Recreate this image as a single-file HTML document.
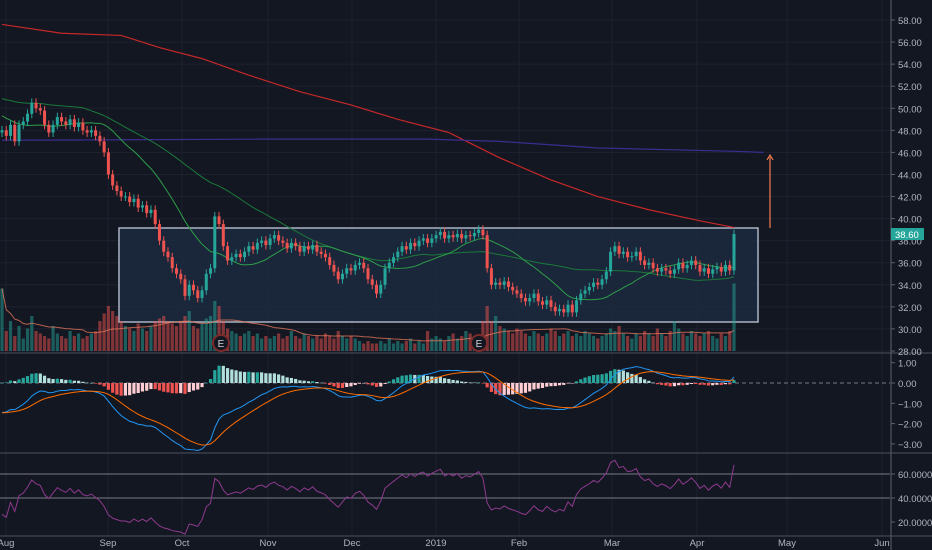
<!DOCTYPE html>
<html><head><meta charset="utf-8"><style>
html,body{margin:0;padding:0;background:#131722;}
svg{display:block;font-family:"Liberation Sans",sans-serif;}
</style></head><body>
<svg id="chart" width="932" height="550" viewBox="0 0 932 550" xmlns="http://www.w3.org/2000/svg">
<rect x="0" y="0" width="932" height="550" fill="#131722"/>
<g id="grid"></g>
<rect x="119" y="228" width="639" height="94" fill="#1d2a40" fill-opacity="0.8" stroke="#aab4c4" stroke-width="1.5"/>
<g id="vol"></g>
<g id="lines"></g>
<g id="candles"></g>
<g id="macd"></g>
<g id="rsi"></g>
<g id="axes"></g>
<line x1="770" y1="228" x2="770" y2="157" stroke="#f57c4d" stroke-width="1.2"/>
<path d="M767 160 L770 155 L773 160" fill="none" stroke="#f57c4d" stroke-width="1.2"/>
<g><circle cx="221" cy="343" r="8" fill="#131722" stroke="#7a2a2a" stroke-width="2"/><text x="221" y="347" fill="#d0d0d0" font-size="10" text-anchor="middle">E</text></g>
<g><circle cx="479" cy="343" r="8" fill="#131722" stroke="#7a2a2a" stroke-width="2"/><text x="479" y="347" fill="#d0d0d0" font-size="10" text-anchor="middle">E</text></g>
</svg>
<script>
const priorCloses=[55,54.8,54.5,54,54.2,53.8,53.5,53,53.2,52.6,52,52.3,51.8,51.2,51,50.5,50.8,50.2,49.6,49.8,49.2,48.8,49,48.4,48,47.6,47.8,47.2,47.5,47.8];
const closes=[48,47.5,48.5,47,48.5,48.8,49.5,50.5,50,49.8,48.5,47.8,48.5,49.2,48.8,48.5,49,48.3,48.7,48,47.8,48,47.5,47,
46,44,43,42.5,42,42,41.5,41.8,41,41.2,40.5,40.8,39.5,38,37,36.5,35.5,35,
34.5,33,34,33.5,32.8,33.5,35,35.5,40.2,39.5,37.5,36.2,36.5,36.8,36.5,37,37.5,37.2,37.8,38,37.6,38.2,
38.5,38,37.8,37.3,37.8,37.5,37,37.5,37.2,37.6,37,36.8,36.5,35.8,35.2,34.5,35,35.5,35.3,35.8,
36,35.5,34.5,34,33.2,34,35.5,36,36.5,37,37.5,37.2,37.8,37.5,38,38.2,37.8,38.2,38.5,
38.8,38.2,38.5,38.3,38.6,38.2,38.5,38.4,38.7,39,38.5,35.5,34,34.2,34,34.3,33.8,33.5,33.2,32.8,32.5,
32.8,33.2,32.5,32.2,32.6,32,31.6,31.8,31.5,32.2,31.5,32.6,33.2,33.5,33.8,34.2,34,34.5,35.2,
37,37.5,36.8,37,36.5,36.6,37,36.2,35.8,36,35.5,35.2,35.5,35.3,35,35.4,36,35.5,35.8,36.2,35.8,
35.2,35.5,35,35.4,35.6,35.2,35.8,35.3,38.6];
const volumes=[25,8,12,6,10,5,9,14,8,7,6,5,10,7,6,5,8,6,7,5,6,7,8,12,
15,18,16,14,12,10,9,8,11,9,8,10,12,13,14,12,11,10,
12,14,16,10,9,11,13,14,20,18,12,9,8,7,6,7,8,6,7,5,6,5,
6,7,5,6,8,6,5,7,6,5,6,5,7,6,5,8,6,5,6,5,
4,3,4,3,3,4,3,5,3,4,3,4,5,3,4,3,8,5,6,
5,4,6,7,5,6,8,7,6,5,12,18,12,14,10,9,8,7,9,8,7,
6,8,7,6,7,9,8,6,7,8,6,7,6,8,7,6,5,6,7,
9,8,10,7,6,5,7,6,8,7,6,9,7,6,8,12,9,7,6,8,7,
6,7,8,6,5,7,6,8,27];
const ma200Idx=[0,14,28,37,47,58,70,82,93,105,117,129,140,152,164,172];
const ma200Val=[57.6,56.8,56.6,55.5,54.5,53,51.5,50.3,49,47.8,45.5,43.5,42,40.8,39.8,39.2];
const blueIdx=[0,60,100,117,140,172,179];
const blueVal=[47.1,47.2,47.2,47.0,46.4,46.1,46.0];
const priceTicks=[58,56,54,52,50,48,46,44,42,40,38,36,34,32,30,28];
const macdTicks=[1,0,-1,-2,-3];
const rsiTicks=[60,40,20];
const monthLabels=["Aug","Sep","Oct","Nov","Dec","2019","Feb","Mar","Apr","May","Jun"];
const monthX=[6,108,182,268,352,436,519,612,697,787,882];

const NS="http://www.w3.org/2000/svg";
function mk(tag,attrs,parent){const e=document.createElementNS(NS,tag);for(const k in attrs)e.setAttribute(k,attrs[k]);parent.appendChild(e);return e;}
const N=closes.length, X0=2, DX=732/(N-1);
const xs=i=>X0+i*DX;
const yP=p=>20+(58-p)*11.033;
const yM=v=>383-v*20.3;
const yR=v=>474+(60-v)*1.2;
const yV=v=>351-v*2.5;

const grid=document.getElementById('grid');
priceTicks.forEach(t=>{const l=mk('line',{x1:0,x2:890,y1:yP(t),y2:yP(t),stroke:'#1e2230','stroke-width':1},grid);
});
monthX.forEach(x=>{const l=mk('line',{x1:x,x2:x,y1:0,y2:536,stroke:'#1e2230','stroke-width':1},grid);
});

const all=priorCloses.concat(closes), P=priorCloses.length;
function sma(arr,n,i){let s=0,c=0;for(let k=Math.max(0,i-n+1);k<=i;k++){s+=arr[k];c++;}return s/c;}

const vg=document.getElementById('vol');
closes.forEach((c,i)=>{const o=i?closes[i-1]:all[P-1];const up=c>=o;
const r=mk('rect',{x:xs(i)-1.6,y:yV(volumes[i]),width:3.2,height:351-yV(volumes[i]),fill:up?'#26a69a':'#ef5350','fill-opacity':0.5},vg);
});
let vp=closes.map((c,i)=>xs(i)+','+yV(sma(volumes,20,i))).join(' ');
const vml=mk('polyline',{points:vp,fill:'none',stroke:'#e0745a','stroke-width':1,'stroke-opacity':0.8},vg);


const lg=document.getElementById('lines');
const p200=ma200Idx.map((k,j)=>xs(k)+','+yP(ma200Val[j])).join(' ');
const l200=mk('polyline',{points:p200,fill:'none',stroke:'#c62828','stroke-width':1.2},lg);

const pb=blueIdx.map((k,j)=>xs(k)+','+yP(blueVal[j])).join(' ');
const lb=mk('polyline',{points:pb,fill:'none',stroke:'#3b2d8f','stroke-width':1.2},lg);

const p50=closes.map((c,i)=>xs(i)+','+yP(sma(all,50,P+i))).join(' ');
const l50=mk('polyline',{points:p50,fill:'none',stroke:'#1b7a3a','stroke-width':1},lg);

const p20=closes.map((c,i)=>xs(i)+','+yP(sma(all,20,P+i))).join(' ');
const l20=mk('polyline',{points:p20,fill:'none',stroke:'#2e9e4a','stroke-width':1},lg);


const cg=document.getElementById('candles');
closes.forEach((c,i)=>{const o=i?closes[i-1]:all[P-1];const up=c>=o;const col=up?'#26a69a':'#ef5350';
const hi=Math.max(o,c)+0.4, lo=Math.min(o,c)-0.4;
const w=mk('line',{x1:xs(i),x2:xs(i),y1:yP(hi),y2:yP(lo),stroke:col,'stroke-width':1},cg);

const b=mk('rect',{x:xs(i)-1.5,y:yP(Math.max(o,c)),width:3,height:Math.max(1,Math.abs(yP(o)-yP(c))),fill:col},cg);
});

function ema(arr,n){const k=2/(n+1);const r=[];arr.forEach((v,i)=>r.push(i?v*k+r[i-1]*(1-k):v));return r;}
const e12=ema(all,12),e26=ema(all,26);const macdAll=all.map((v,i)=>e12[i]-e26[i]);const sigAll=ema(macdAll,9);
const mg=document.getElementById('macd');
const z=mk('line',{x1:0,x2:890,y1:383,y2:383,stroke:'#787b86','stroke-dasharray':'4 3','stroke-width':1},mg);

closes.forEach((c,i)=>{const h=macdAll[P+i]-sigAll[P+i], hp=macdAll[P+i-1]-sigAll[P+i-1];
const col=h>=0?(h>=hp?'#26a69a':'#b2dfdb'):(h<hp?'#ef5350':'#ffcdd2');
const r=mk('rect',{x:xs(i)-1.6,y:Math.min(yM(h),383),width:3.2,height:Math.max(0.5,Math.abs(yM(h)-383)),fill:col},mg);
});
const mp=closes.map((c,i)=>xs(i)+','+yM(macdAll[P+i])).join(' ');
const ml=mk('polyline',{points:mp,fill:'none',stroke:'#2196f3','stroke-width':1},mg);

const sp=closes.map((c,i)=>xs(i)+','+yM(sigAll[P+i])).join(' ');
const sl=mk('polyline',{points:sp,fill:'none',stroke:'#ff6d00','stroke-width':1},mg);


const rg=document.getElementById('rsi');
[60,40].forEach(t=>{const l=mk('line',{x1:0,x2:890,y1:yR(t),y2:yR(t),stroke:'#787b86','stroke-width':1},rg);
});
let ag=0,al=0;const rsi=[];
for(let i=1;i<all.length;i++){const d=all[i]-all[i-1];const g=Math.max(d,0),l=Math.max(-d,0);
if(i<=14){ag+=g/14;al+=l/14;}else{ag=(ag*13+g)/14;al=(al*13+l)/14;}rsi[i]=al===0?100:100-100/(1+ag/al);}
const rp=closes.map((c,i)=>xs(i)+','+yR(rsi[P+i])).join(' ');
const rl=mk('polyline',{points:rp,fill:'none',stroke:'#8e3a8e','stroke-width':1},rg);


const ax=document.getElementById('axes');
[353,453,536].forEach(a=>{const l=mk('line',{x1:0,x2:932,y1:a,y2:a,stroke:'#3a3e4a','stroke-width':1.5},ax);
});
const va=mk('line',{x1:891,x2:891,y1:0,y2:550,stroke:'#5d606b','stroke-width':1},ax);

function lab(t,y,name){const e=mk('text',{x:898,y:y+4,fill:'#b2b5be','font-size':9.5},ax);e.textContent=t;

const tk=mk('line',{x1:891,x2:895,y1:y,y2:y,stroke:'#5d606b'},ax);}
priceTicks.forEach(t=>lab(t.toFixed(2),yP(t),'price-tick-label'));
macdTicks.forEach(t=>lab((t<0?'\u2212'+(-t).toFixed(2):t.toFixed(2)),yM(t),'macd-tick-label'));
rsiTicks.forEach(t=>lab(t.toFixed(4),yR(t),'rsi-tick-label'));
const last=closes[N-1];
const pl=mk('rect',{x:891,y:yP(last)-6,width:33,height:12,fill:'#26a69a'},ax);

const plt=mk('text',{x:895,y:yP(last)+4,fill:'#ffffff','font-size':9.5},ax);plt.textContent=last.toFixed(2);

monthLabels.forEach((m,j)=>{const e=mk('text',{x:monthX[j],y:546,fill:'#b2b5be','font-size':9.5,'text-anchor':'middle'},ax);e.textContent=m;
});
</script>
</body></html>
